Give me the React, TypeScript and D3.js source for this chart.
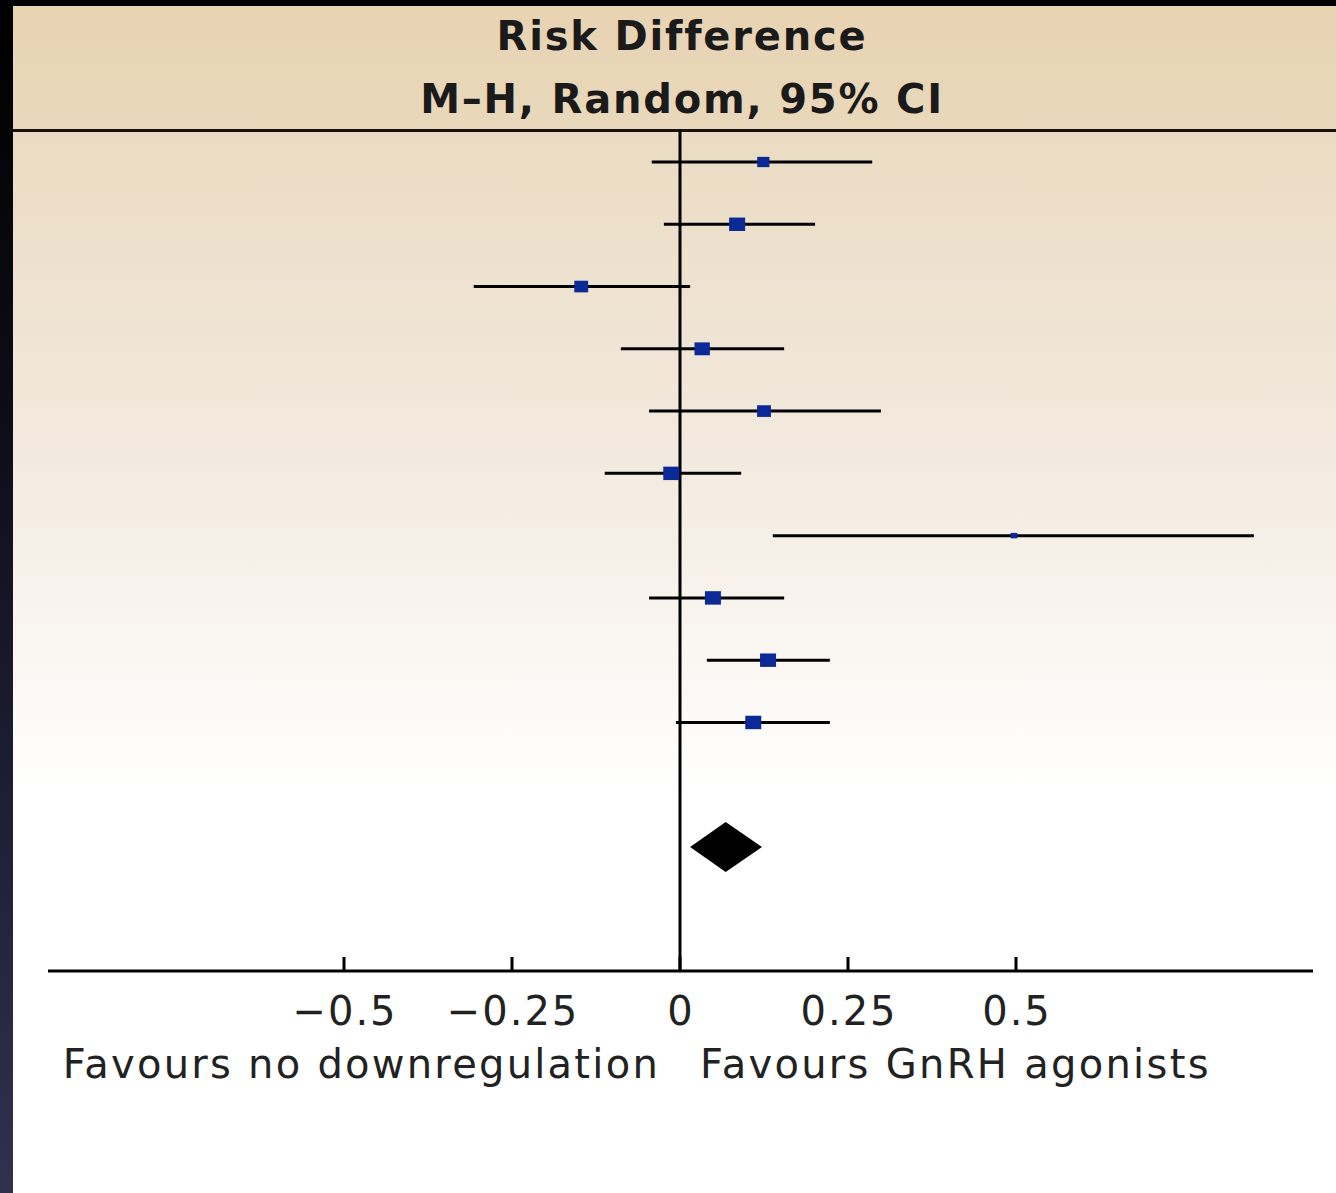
import React from "react";
import * as d3 from "d3";

const studyIds = ["s1", "s2", "s3", "s4", "s5", "s6", "s7", "s8", "s9", "s10"];
const estimates = [0.124, 0.085, -0.147, 0.033, 0.125, -0.013, 0.497, 0.049, 0.131, 0.109];
const lowers = [-0.042, -0.024, -0.307, -0.088, -0.046, -0.112, 0.138, -0.046, 0.04, -0.006];
const uppers = [0.286, 0.201, 0.015, 0.155, 0.299, 0.091, 0.854, 0.155, 0.223, 0.223];
const weights = [7, 12, 9, 11, 9, 12, 2, 12, 12, 12];
const pooled = { est: 0.068, lo: 0.015, hi: 0.122 };
const tickValues = [-0.5, -0.25, 0, 0.25, 0.5];
const tickLabels = ["−0.5", "−0.25", "0", "0.25", "0.5"];

const W = 1336;
const H = 1193;

export default function App() {
  const x = d3.scaleLinear().domain([-1, 1]).range([8, 1352]);
  const y = d3
    .scalePoint<string>()
    .domain([...studyIds, "gap", "pooled"])
    .range([162, 847]);
  const sizeScale = d3.scaleSqrt().domain([0, 12]).range([0, 16]);
  const axisY = 971;
  const font = "'DejaVu Sans', 'Lucida Grande', sans-serif";

  const py = y("pooled") as number;
  const diamondH = 25;
  const diamond = d3.line()([
    [x(pooled.lo), py],
    [x(pooled.est), py - diamondH],
    [x(pooled.hi), py],
    [x(pooled.est), py + diamondH],
  ]) + "Z";

  return (
    <div style={{ position: "absolute", left: 0, top: 0, width: W, height: H }}>
      <svg width={W} height={H} style={{ display: "block" }}>
        <defs>
          <linearGradient id="bodyGrad" x1="0" y1="0" x2="0" y2="1">
            <stop offset="0%" stopColor="#eadbc2" />
            <stop offset="45%" stopColor="#f2e8dc" />
            <stop offset="100%" stopColor="#ffffff" />
          </linearGradient>
          <linearGradient id="borderGrad" x1="0" y1="0" x2="0" y2="1">
            <stop offset="0%" stopColor="#000000" />
            <stop offset="35%" stopColor="#0d0d18" />
            <stop offset="100%" stopColor="#30314e" />
          </linearGradient>
          <linearGradient id="headGrad" x1="0" y1="0" x2="0" y2="1">
            <stop offset="0%" stopColor="#e8d3b2" />
            <stop offset="100%" stopColor="#e9d8bb" />
          </linearGradient>
        </defs>
        <rect x={0} y={0} width={W} height={H} fill="#ffffff" />
        <rect x={0} y={131} width={W} height={660} fill="url(#bodyGrad)" />
        <rect x={0} y={0} width={W} height={130} fill="url(#headGrad)" />
        <rect x={0} y={0} width={W} height={6} fill="#000000" />
        <rect x={0} y={0} width={13} height={H} fill="url(#borderGrad)" />
        <line x1={13} x2={W} y1={130.5} y2={130.5} stroke="#1a120c" strokeWidth={3} />

        <text x={682} y={50} textAnchor="middle" fontFamily={font} fontWeight="bold" fontSize={40} letterSpacing={1.8} fill="#1a1a1a">
          Risk Difference
        </text>
        <text x={682} y={113} textAnchor="middle" fontFamily={font} fontWeight="bold" fontSize={40} letterSpacing={1.8} fill="#1a1a1a">
          M–H, Random, 95% CI
        </text>

        <line x1={x(0)} x2={x(0)} y1={131} y2={axisY} stroke="#000" strokeWidth={3} />

        {studyIds.map((id, i) => {
          const cy = y(id) as number;
          const s = sizeScale(weights[i]);
          return (
            <g key={id}>
              <line x1={x(lowers[i])} x2={x(uppers[i])} y1={cy} y2={cy} stroke="#000" strokeWidth={3} />
              <rect x={x(estimates[i]) - s / 2} y={cy - s * 0.42} width={s} height={s * 0.84} fill="#0b2a98" />
            </g>
          );
        })}

        <path d={diamond} fill="#000" />

        <line x1={48} x2={1313} y1={axisY} y2={axisY} stroke="#000" strokeWidth={3} />
        {tickValues.map((v, i) => (
          <g key={v}>
            <line x1={x(v)} x2={x(v)} y1={axisY - 14} y2={axisY} stroke="#000" strokeWidth={3} />
            <text x={x(v) + 1} y={1025} textAnchor="middle" fontFamily={font} fontSize={40} letterSpacing={2} fill="#222">
              {tickLabels[i]}
            </text>
          </g>
        ))}
        <text x={660} y={1078} textAnchor="end" fontFamily={font} fontSize={40} letterSpacing={2.25} fill="#222">
          Favours no downregulation
        </text>
        <text x={700} y={1078} textAnchor="start" fontFamily={font} fontSize={40} letterSpacing={2.3} fill="#222">
          Favours GnRH agonists
        </text>
      </svg>
    </div>
  );
}
